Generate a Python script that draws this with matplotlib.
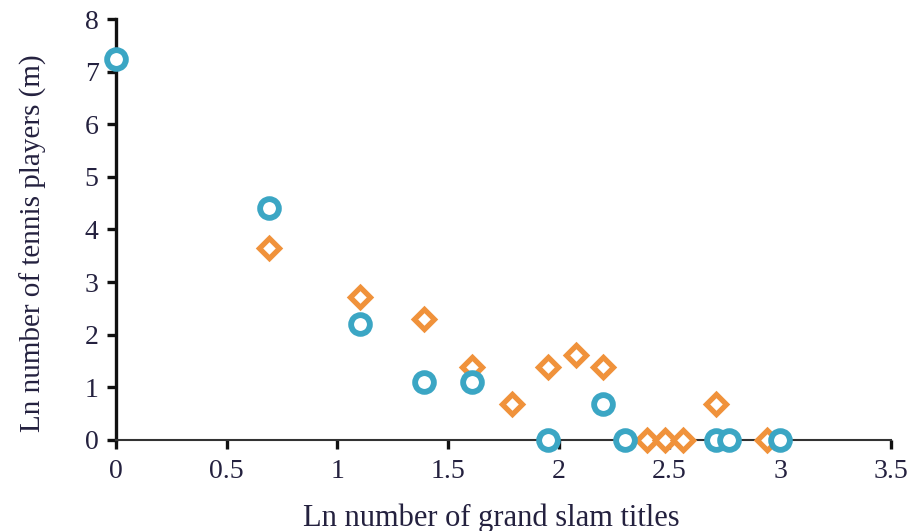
import matplotlib.pyplot as plt

# ln(titles) vs ln(number of players)
blue_x = [0.0, 0.69, 1.10, 1.39, 1.61, 1.95, 2.20, 2.30, 2.71, 2.77, 3.00]
blue_y = [7.24, 4.40, 2.20, 1.10, 1.10, 0.0, 0.69, 0.0, 0.0, 0.0, 0.0]
orange_x = [0.69, 1.10, 1.39, 1.61, 1.79, 1.95, 2.08, 2.20, 2.40, 2.48, 2.56, 2.71, 2.94]
orange_y = [3.64, 2.71, 2.30, 1.39, 0.69, 1.39, 1.61, 1.39, 0.0, 0.0, 0.0, 0.69, 0.0]

xticks = [0, 0.5, 1, 1.5, 2, 2.5, 3, 3.5]
xtick_labels = ['0', '0.5', '1', '1.5', '2', '2.5', '3', '3.5']
yticks = [0, 1, 2, 3, 4, 5, 6, 7, 8]

plt.rcParams['font.family'] = ['Liberation Serif', 'DejaVu Serif']
txt = '#24213f'
blue = '#3ba6c4'
orange = '#f0923b'

fig = plt.figure(figsize=(9.16, 5.31), dpi=100)
ax = fig.add_axes([0.1266, 0.1714, 0.846, 0.7928])

ax.plot(orange_x, orange_y, 'D', ms=10, mfc='white', mec=orange, mew=3.8,
        ls='none', clip_on=False, zorder=3)
ax.plot(blue_x, blue_y, 'o', ms=13.5, mfc='white', mec=blue, mew=4.2,
        ls='none', clip_on=False, zorder=4)

ax.set_xlim(0, 3.5)
ax.set_ylim(0, 8)
ax.set_xticks(xticks)
ax.set_xticklabels(xtick_labels)
ax.set_yticks(yticks)

for s in ['top', 'right']:
    ax.spines[s].set_visible(False)
ax.spines['left'].set_linewidth(2.4)
ax.spines['left'].set_color('#111111')
ax.spines['bottom'].set_linewidth(1.5)
ax.spines['bottom'].set_color('#333333')
ax.tick_params(axis='both', direction='out', length=6.5, width=2.4,
               color='#111111', labelsize=20, labelcolor=txt)
ax.tick_params(axis='x', pad=7)
ax.tick_params(axis='y', pad=6)

ax.set_xlabel('Ln number of grand slam titles', fontsize=22, color=txt)
ax.set_ylabel('Ln number of tennis players (m)', fontsize=21, color=txt)
ax.xaxis.set_label_coords(0.484, -0.15)
ax.yaxis.set_label_coords(-0.089, 0.468)

fig.savefig('out.png', dpi=100)
